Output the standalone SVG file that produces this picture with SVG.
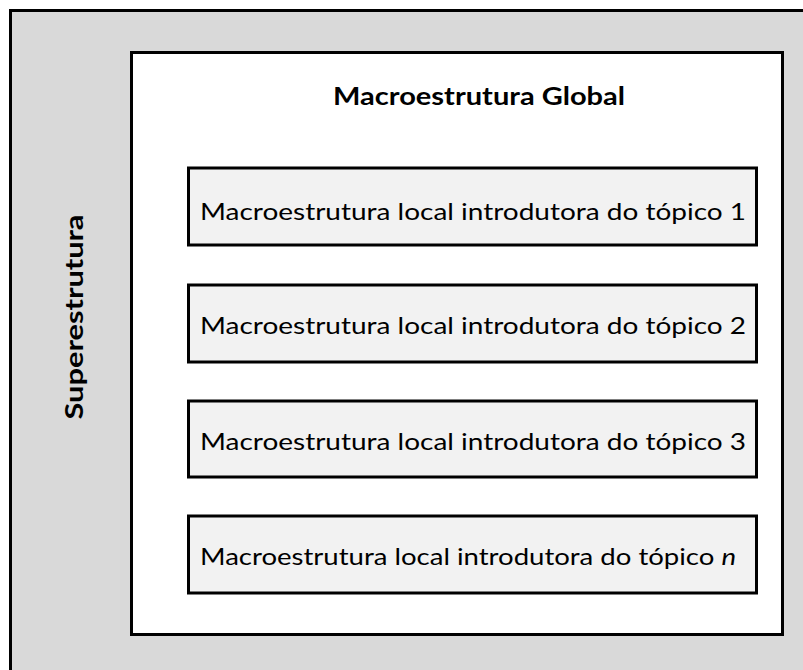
<svg xmlns="http://www.w3.org/2000/svg" width="803" height="670" viewBox="0 0 803 670">
<style>
.t{font-family:Lato,"Open Sans","Liberation Sans",sans-serif;font-size:23px;fill:#000}
.b{font-family:Lato,"Open Sans","Liberation Sans",sans-serif;font-size:24px;font-weight:bold;fill:#000}
.box{fill:#f2f2f2;stroke:#000;stroke-width:3}
</style>
<rect x="0" y="0" width="803" height="670" fill="#ffffff"/>
<g id="superestrutura">
<rect x="10.5" y="10.5" width="800" height="670" fill="#d9d9d9"/>
<path d="M10.5 670 V10.5 H803" fill="none" stroke="#000" stroke-width="3"/>
<text class="b" transform="translate(83 317) rotate(-90)" text-anchor="middle" textLength="205" lengthAdjust="spacingAndGlyphs">Superestrutura</text>
</g>
<g id="global">
<rect x="131.5" y="52.5" width="651" height="582" fill="#fff" stroke="#000" stroke-width="3"/>
<text class="b" x="479" y="105" text-anchor="middle" textLength="292" lengthAdjust="spacingAndGlyphs">Macroestrutura Global</text>
</g>
<g id="topico1">
<rect class="box" x="188.5" y="168" width="568" height="77"/>
<text class="t" x="200" y="220" textLength="546" lengthAdjust="spacingAndGlyphs">Macroestrutura local introdutora do tópico 1</text>
</g>
<g id="topico2">
<rect class="box" x="188.5" y="285" width="568" height="77"/>
<text class="t" x="200" y="334" textLength="546" lengthAdjust="spacingAndGlyphs">Macroestrutura local introdutora do tópico 2</text>
</g>
<g id="topico3">
<rect class="box" x="188.5" y="401" width="568" height="76"/>
<text class="t" x="200" y="450" textLength="546" lengthAdjust="spacingAndGlyphs">Macroestrutura local introdutora do tópico 3</text>
</g>
<g id="topicon">
<rect class="box" x="188.5" y="516" width="568" height="77"/>
<text class="t" x="200" y="565" textLength="536" lengthAdjust="spacingAndGlyphs">Macroestrutura local introdutora do tópico <tspan font-style="italic">n</tspan></text>
</g>
<g id="connectors"></g>
</svg>
